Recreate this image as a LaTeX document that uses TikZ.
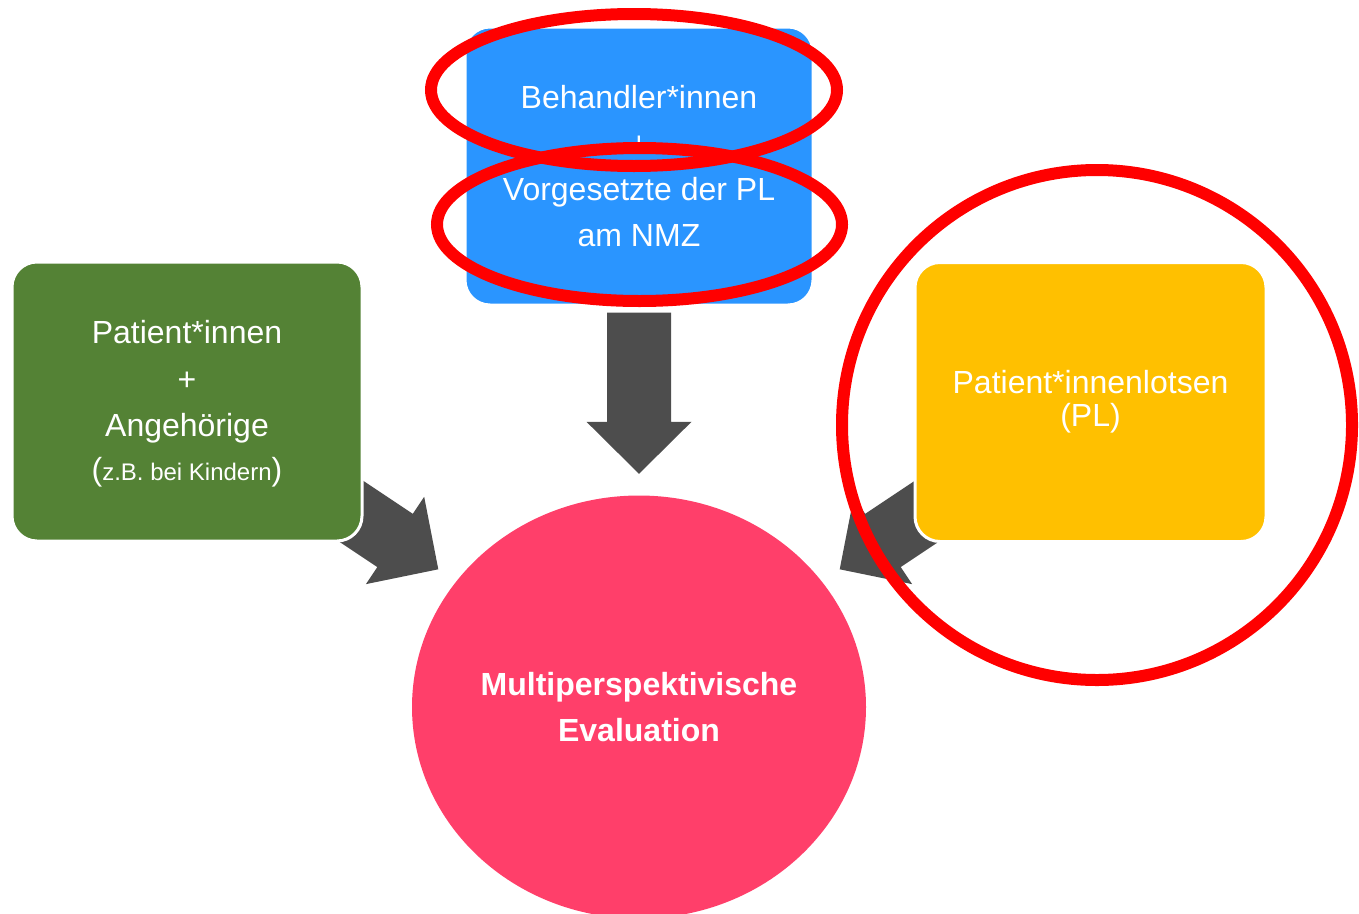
\documentclass[tikz,border=0pt]{standalone}
\usepackage{fontspec}
\setmainfont{Liberation Sans}
\usetikzlibrary{calc,shapes.geometric,backgrounds}
\definecolor{boxgreen}{HTML}{548235}
\definecolor{boxblue}{HTML}{2A95FF}
\definecolor{boxyellow}{HTML}{FFC000}
\definecolor{evalpink}{HTML}{FF3F6A}
\definecolor{arrowgray}{HTML}{4D4D4D}
\definecolor{markred}{HTML}{FF0000}
\tikzset{
  box/.style={rectangle, rounded corners=25pt, draw=white, line width=3pt,
    text=white, align=center, minimum width=350pt, minimum height=279pt,
    inner sep=0pt, font=\fontsize{32}{46}\selectfont},
  boxtext/.style={text=white, align=center, inner sep=0pt, font=\fontsize{32}{46.5}\selectfont},
  arrowfill/.style={fill=arrowgray},
  redring/.style={ellipse, draw=markred, line width=12pt, inner sep=0pt}
}
\newcommand\blkarrow[2]{%
  \fill[arrowfill] (#2)
    -- ($(#2)!52pt!(#1)!52.5pt!90:(#2)$)
    -- ($(#2)!52pt!(#1)!32pt!90:(#2)$)
    -- ($(#1)!32pt!90:(#2)$)
    -- ($(#1)!32pt!-90:(#2)$)
    -- ($(#2)!52pt!(#1)!32pt!-90:(#2)$)
    -- ($(#2)!52pt!(#1)!52.5pt!-90:(#2)$)
    -- cycle;}
\begin{document}
\begin{tikzpicture}[x=1pt,y=-1pt]
\useasboundingbox (0,0) rectangle (1359,913);
% boxes
\node[box, fill=boxgreen] (pat) at (187,401.5) {};
\node[boxtext] (pattxt) at (187,404)
  {Patient*innen\\+\\Angehörige\\[-2.5pt]{\fontsize{24}{30}\selectfont{\fontsize{32}{38}\selectfont(}z.B. bei Kindern{\fontsize{32}{38}\selectfont)}}};
\node[box, fill=boxblue, minimum width=348pt, minimum height=278pt] (beh) at (639,166)
  {Behandler*innen\\+\\Vorgesetzte der PL\\am NMZ};
\node[box, fill=boxyellow, minimum width=351pt, font=\fontsize{32}{33}\selectfont] (lot) at (1090.5,402)
  {Patient*innenlotsen\\(PL)};
\node[ellipse, fill=evalpink, minimum width=454pt, minimum height=423pt, inner sep=0pt,
  text=white, align=center, font=\bfseries\fontsize{32}{46}\selectfont] (eva) at (639,707)
  {Multiperspektivische\\Evaluation};
% arrow coordinates
\coordinate (ds) at ($(beh.south)+(0,6)$);
\coordinate (dt) at ($(eva.north)+(0,-21.5)$);
\coordinate (ls) at (302.6,478.8);
\coordinate (lt) at (438.3,569.3);
\coordinate (rs) at (975.4,478.8);
\coordinate (rt) at (839.7,569.3);
\begin{pgfonlayer}{background}
  \blkarrow{ds}{dt}
  \blkarrow{ls}{lt}
  \blkarrow{rs}{rt}
\end{pgfonlayer}
% red marks
\node[redring, minimum width=406pt, minimum height=152pt] (ring1) at (634,90) {};
\node[redring, minimum width=405pt, minimum height=153pt] (ring2) at (639.5,224.5) {};
\node[redring, minimum width=510pt, minimum height=510pt] (ring3) at (1097,425) {};
\end{tikzpicture}
\end{document}
